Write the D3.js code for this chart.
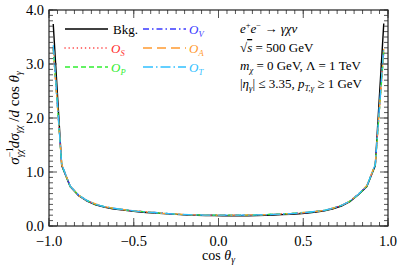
<!DOCTYPE html>
<meta charset="utf-8">
<head>
<title>cos theta distribution</title>
<script src="https://cdn.jsdelivr.net/npm/d3@7"></script>
<style>
body { margin:0; background:#fff; }
</style>
</head>
<body>
<svg id=mySVG width=398 height=266 font-family="'Liberation Serif', 'DejaVu Serif', serif"></svg>
<script>
// ---- data: bin centres and normalised distributions ----
var binCenters=[-0.975,-0.925,-0.875,-0.825,-0.775,-0.725,-0.675,-0.625,-0.575,-0.525,
 -0.475,-0.425,-0.375,-0.325,-0.275,-0.225,-0.175,-0.125,-0.075,-0.025,
 0.025,0.075,0.125,0.175,0.225,0.275,0.325,0.375,0.425,0.475,
 0.525,0.575,0.625,0.675,0.725,0.775,0.825,0.875,0.925,0.975]

var bkgValues=[3.74,1.12,0.73,0.56,0.46,0.39,0.35,0.32,0.30,0.28,
 0.265,0.25,0.24,0.23,0.22,0.21,0.205,0.20,0.195,0.195,
 0.19,0.19,0.19,0.19,0.195,0.20,0.205,0.21,0.215,0.225,
 0.24,0.26,0.28,0.32,0.37,0.45,0.58,0.73,1.12,3.75]
var oVValues=[3.30,1.14,0.74,0.57,0.47,0.40,0.36,0.33,0.31,0.29,
 0.275,0.26,0.25,0.235,0.225,0.215,0.21,0.205,0.20,0.20,
 0.20,0.20,0.20,0.20,0.205,0.21,0.215,0.22,0.23,0.24,
 0.25,0.27,0.29,0.33,0.38,0.46,0.59,0.74,1.14,3.25]
var oSValues=[3.26,1.13,0.74,0.56,0.46,0.40,0.36,0.33,0.30,0.29,
 0.27,0.26,0.245,0.235,0.225,0.215,0.21,0.205,0.20,0.20,
 0.20,0.20,0.20,0.205,0.205,0.21,0.215,0.225,0.23,0.24,
 0.255,0.27,0.29,0.33,0.38,0.46,0.59,0.74,1.13,3.20]
var oPValues=[3.28,1.13,0.73,0.57,0.47,0.40,0.36,0.33,0.31,0.29,
 0.275,0.26,0.245,0.235,0.225,0.215,0.21,0.205,0.20,0.20,
 0.20,0.20,0.20,0.20,0.205,0.21,0.22,0.225,0.23,0.245,
 0.255,0.27,0.29,0.33,0.38,0.46,0.58,0.74,1.13,3.22]
var oAValues=[3.32,1.14,0.74,0.57,0.47,0.41,0.36,0.33,0.31,0.29,
 0.275,0.26,0.25,0.235,0.225,0.22,0.21,0.205,0.20,0.20,
 0.20,0.20,0.20,0.205,0.205,0.21,0.215,0.22,0.23,0.24,
 0.255,0.27,0.29,0.33,0.38,0.46,0.59,0.75,1.14,3.28]
var oTValues=[3.35,1.14,0.74,0.57,0.47,0.40,0.36,0.33,0.31,0.29,
 0.27,0.26,0.25,0.235,0.225,0.215,0.21,0.205,0.20,0.20,
 0.20,0.20,0.20,0.20,0.205,0.21,0.215,0.22,0.23,0.24,
 0.255,0.27,0.29,0.33,0.38,0.46,0.59,0.74,1.14,3.30]

var seriesNames=["Bkg.","V","S","P","A","T"]
var xTickValues=[-1.0,-0.5,0.0,0.5,1.0]
var yTickValues=[0.0,1.0,2.0,3.0,4.0]

// ---- styles ----
var seriesList=[
 {name:"Bkg.",values:bkgValues,color:"#000000",dash:null,cap:"butt"},
 {name:"V",values:oVValues,color:"#3a3aff",dash:"6,3,1.5,3",cap:"butt"},
 {name:"S",values:oSValues,color:"#ff3030",dash:"0.1,4",cap:"round"},
 {name:"P",values:oPValues,color:"#30ee30",dash:"5,3",cap:"butt"},
 {name:"A",values:oAValues,color:"#ff9a30",dash:"9,5",cap:"butt"},
 {name:"T",values:oTValues,color:"#30c0ff",dash:"10,3,1.5,3",cap:"butt"}
]

var margin={left:49,right:10,top:10,bottom:40}
var W=398,H=266
var plotW=W-margin.left-margin.right
var plotH=H-margin.top-margin.bottom

var svg=d3.select("#mySVG")
var g=svg.append("g").attr("transform","translate("+margin.left+","+margin.top+")")

var x=d3.scaleLinear().domain([-1,1]).range([0,plotW])
var y=d3.scaleLinear().domain([0,4]).range([plotH,0])

//----clip------
svg.append("defs").append("clipPath").attr("id","clip")
 .append("rect").attr("width",plotW).attr("height",plotH)

var line=d3.line().x(function(d){return x(d[0])}).y(function(d){return y(d[1])})

var curves=g.append("g").attr("clip-path","url(#clip)")
seriesList.forEach(function(s){
  curves.append("path")
   .datum(binCenters.map(function(c,i){return [c,s.values[i]]}))
   .attr("d",line)
   .attr("fill","none")
   .attr("stroke",s.color)
   .attr("stroke-width",s.name=="Bkg."?1.4:1.3)
   .attr("stroke-linecap",s.cap)
   .attr("stroke-dasharray",s.dash)
})

//----ticks (inward, all four sides)---
var fmt=function(d){return d3.format(".1f")(d).replace("-","\u2212")}
var xMinor=d3.range(-1,1.0001,0.05)
var yMinor=d3.range(0,4.0001,0.1)
var tickCol="#555"
function tickLines(vals,len,isX,side){
  vals.forEach(function(v){
    if(isX){
      var px=x(v), y0=side=="b"?plotH:0, dir=side=="b"?-1:1
      g.append("line").attr("x1",px).attr("x2",px).attr("y1",y0).attr("y2",y0+dir*len)
       .attr("stroke",tickCol).attr("stroke-width",1)
    } else {
      var py=y(v), x0=side=="l"?0:plotW, dir=side=="l"?1:-1
      g.append("line").attr("y1",py).attr("y2",py).attr("x1",x0).attr("x2",x0+dir*len)
       .attr("stroke",tickCol).attr("stroke-width",1)
    }
  })
}
tickLines(xMinor,4,true,"b");tickLines(xMinor,4,true,"t")
tickLines(d3.range(-1,1.0001,0.5),8,true,"b");tickLines(d3.range(-1,1.0001,0.5),8,true,"t")
tickLines(yMinor,4,false,"l");tickLines(yMinor,4,false,"r")
tickLines(yTickValues,8,false,"l");tickLines(yTickValues,8,false,"r")

g.append("rect").attr("width",plotW).attr("height",plotH)
 .attr("fill","none").attr("stroke","#222").attr("stroke-width",1.2)

g.selectAll(".xl").data(xTickValues).enter().append("text")
 .attr("x",function(d){return x(d)}).attr("y",plotH+20)
 .attr("text-anchor","middle").attr("font-size",14.5).text(fmt)
g.selectAll(".yl").data(yTickValues).enter().append("text")
 .attr("x",-5).attr("y",function(d){return y(d)+5})
 .attr("text-anchor","end").attr("font-size",14.5).text(fmt)

//----axis titles----
var xt=g.append("text").attr("x",plotW/2).attr("y",plotH+34).attr("text-anchor","middle").attr("font-size",14)
xt.append("tspan").text("cos ")
xt.append("tspan").attr("font-style","italic").text("θ")
xt.append("tspan").attr("font-style","italic").attr("font-size",9.5).attr("dy",3).text("γ")

var yt=svg.append("text").attr("transform","translate(19,118) rotate(-90)").attr("text-anchor","middle").attr("font-size",15)
yt.append("tspan").attr("font-style","italic").text("σ")
yt.append("tspan").attr("font-size",9.5).attr("dy",-6).text("−1")
yt.append("tspan").attr("font-style","italic").attr("font-size",9.5).attr("dx",-10).attr("dy",10).text("γχ")
yt.append("tspan").attr("font-style","italic").attr("dy",-4).attr("dx",1).text("dσ")
yt.append("tspan").attr("font-style","italic").attr("font-size",9.5).attr("dy",3).text("γχ")
yt.append("tspan").attr("dy",-3).text(" /")
yt.append("tspan").attr("font-style","italic").text("d")
yt.append("tspan").text(" cos ")
yt.append("tspan").attr("font-style","italic").text("θ")
yt.append("tspan").attr("font-style","italic").attr("font-size",9.5).attr("dy",3).text("γ")

//----legend----
var legendPos=[[16,19],[94,19],[16,38],[16,57],[94,38],[94,57]]
seriesList.forEach(function(s,i){
  var p=legendPos[i]
  g.append("line").attr("x1",p[0]).attr("x2",p[0]+43).attr("y1",p[1]).attr("y2",p[1])
   .attr("stroke",s.color).attr("stroke-width",1.5).attr("stroke-dasharray",s.dash).attr("stroke-linecap",s.cap)
  var t=g.append("text").attr("x",p[0]+(i==0?48:46)).attr("y",p[1]+4.5).attr("font-size",13).attr("fill",s.color)
  if(i==0) t.text(seriesNames[0])
  else {
    t.append("tspan").attr("font-style","italic").text("O")
    t.append("tspan").attr("font-style","italic").attr("font-size",8.5).attr("dy",3).text(seriesNames[i])
  }
})

//----annotation----
var ax=191, fs=13
var a1=g.append("text").attr("x",ax).attr("y",23).attr("font-size",fs)
a1.append("tspan").attr("font-style","italic").text("e")
a1.append("tspan").attr("font-size",8.5).attr("dy",-5).text("+")
a1.append("tspan").attr("font-style","italic").attr("dy",5).text("e")
a1.append("tspan").attr("font-size",8.5).attr("dy",-5).text("−")
a1.append("tspan").attr("dy",5).text(" → ")
a1.append("tspan").attr("font-style","italic").text("γχν")

var a2=g.append("text").attr("x",ax).attr("y",42).attr("font-size",fs)
a2.append("tspan").text("√")
a2.append("tspan").attr("font-style","italic").attr("text-decoration","overline").text("s")
a2.append("tspan").text(" = 500 GeV")

var a3=g.append("text").attr("x",ax).attr("y",60).attr("font-size",fs)
a3.append("tspan").attr("font-style","italic").text("m")
a3.append("tspan").attr("font-style","italic").attr("font-size",8.5).attr("dy",3).text("χ")
a3.append("tspan").attr("dy",-3).text(" = 0 GeV, Λ = 1 TeV")

var a4=g.append("text").attr("x",ax).attr("y",78).attr("font-size",fs)
a4.append("tspan").text("|")
a4.append("tspan").attr("font-style","italic").text("η")
a4.append("tspan").attr("font-style","italic").attr("font-size",8.5).attr("dy",3).text("γ")
a4.append("tspan").attr("dy",-3).text("| ≤ 3.35,  ")
a4.append("tspan").attr("font-style","italic").text("p")
a4.append("tspan").attr("font-style","italic").attr("font-size",8.5).attr("dy",3).text("T,γ")
a4.append("tspan").attr("dy",-3).text(" ≥ 1 GeV")
</script>
</body>
